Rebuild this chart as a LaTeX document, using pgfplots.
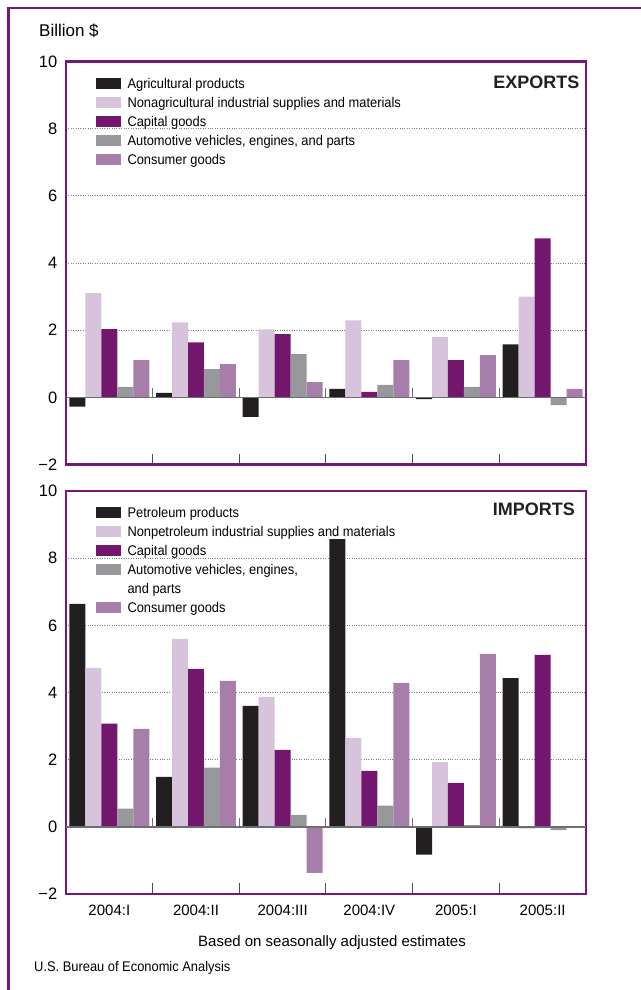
\documentclass[border=0pt]{standalone}
\usepackage{fontspec}
\setmainfont{Liberation Sans}
\newfontfamily\legendfam{Liberation Sans}[FakeStretch=0.92]
\usepackage{pgfplots}
\pgfplotsset{compat=1.18}

\definecolor{cBlack}{HTML}{231F20}
\definecolor{cLav}{HTML}{D7C4DC}
\definecolor{cPurple}{HTML}{72166E}
\definecolor{cGray}{HTML}{97989B}
\definecolor{cMauve}{HTML}{A77DA9}
\definecolor{framepurple}{HTML}{76187A}
\definecolor{zerogray}{HTML}{6D6E71}

\pgfplotsset{
  mybar/.style={fill=#1, draw=none,
    legend image code/.code={\fill[fill=#1] (0pt,-4.5pt) rectangle (25pt,6.5pt);}},
  panel/.style={
    ybar=0pt, bar width=0.1846,
    scale only axis, width=520pt, height=403pt,
    xmin=-0.5, xmax=5.5, ymin=-2, ymax=10,
    xtick={0,1,2,3,4,5},
    ytick={-2,0,2,4,6,8,10}, yticklabels={−2,0,2,4,6,8,10},
    axis line style={framepurple, line width=2.5pt},
    ymajorgrids, grid style={dotted, gray, line width=0.9pt},
    major tick length=0pt,
    minor xtick={0.5,1.5,2.5,3.5,4.5},
    minor tick length=11pt, tick align=inside,
    xtick pos=left, ytick pos=left,
    minor tick style={line width=1pt, black!70},
    yticklabel style={font=\fontsize{16.5}{18}\selectfont, inner sep=0pt, xshift=-8.5pt},
    xticklabel style={font=\fontsize{15}{17}\selectfont, inner sep=0pt, anchor=base, yshift=-21.5pt},
    legend cell align=left,
    legend style={draw=none, fill=none, at={(rel axis cs:0,1)}, anchor=north west,
      xshift=30pt, yshift=-15.5pt, inner sep=0pt, outer sep=0pt,
      font=\legendfam\fontsize{14}{16}\selectfont,
      nodes={inner sep=0pt, text height=11pt, text depth=3pt},
      row sep=5pt,
      /tikz/every odd column/.append style={column sep=6.5pt}},
  }
}

\begin{document}
\begin{tikzpicture}
\useasboundingbox (0pt,0pt) rectangle (640pt,-990pt);
\draw[framepurple, line width=2.5pt] (8.5pt,-1000pt) -- (8.5pt,-8pt) -- (660pt,-8pt);

\node[anchor=base west, inner sep=0pt, font=\fontsize{17}{19}\selectfont] at (39pt,-36.5pt) {Billion \$};

\begin{axis}[panel, at={(66pt,-61.5pt)}, anchor=north west, xticklabels={}]
\addplot[mybar=cBlack, bar shift=-0.3692] coordinates {(0,-0.28) (1,0.13) (2,-0.58) (3,0.25) (4,-0.05) (5,1.58)};
\addlegendentry{Agricultural products}
\addplot[mybar=cLav, bar shift=-0.1846] coordinates {(0,3.10) (1,2.23) (2,2.02) (3,2.29) (4,1.79) (5,3.00)};
\addlegendentry{Nonagricultural industrial supplies and materials}
\addplot[mybar=cPurple, bar shift=0] coordinates {(0,2.03) (1,1.64) (2,1.88) (3,0.16) (4,1.11) (5,4.73)};
\addlegendentry{Capital goods}
\addplot[mybar=cGray, bar shift=0.1846] coordinates {(0,0.31) (1,0.84) (2,1.29) (3,0.37) (4,0.31) (5,-0.23)};
\addlegendentry{Automotive vehicles, engines, and parts}
\addplot[mybar=cMauve, bar shift=0.3692] coordinates {(0,1.11) (1,0.99) (2,0.45) (3,1.11) (4,1.26) (5,0.25)};
\addlegendentry{Consumer goods}
\draw[zerogray, line width=1.5pt] (axis cs:-0.5,0) -- (axis cs:5.5,0);
\pgfplotsinvokeforeach{0.5,1.5,2.5,3.5,4.5}{\draw[zerogray, line width=1pt] (axis cs:#1,0) -- ++(0pt,9pt);}
\end{axis}
\node[anchor=base east, inner sep=0pt, font=\bfseries\fontsize{18}{20}\selectfont, text=cBlack] at (579.5pt,-88.3pt) {EXPORTS};

\begin{axis}[panel, at={(66pt,-491pt)}, anchor=north west,
  xticklabels={2004:I,2004:II,2004:III,2004:IV,2005:I,2005:II}]
\addplot[mybar=cBlack, bar shift=-0.3692] coordinates {(0,6.64) (1,1.49) (2,3.60) (3,8.57) (4,-0.83) (5,4.43)};
\addlegendentry{Petroleum products}
\addplot[mybar=cLav, bar shift=-0.1846] coordinates {(0,4.73) (1,5.60) (2,3.87) (3,2.65) (4,1.93) (5,-0.05)};
\addlegendentry{Nonpetroleum industrial supplies and materials}
\addplot[mybar=cPurple, bar shift=0] coordinates {(0,3.07) (1,4.70) (2,2.29) (3,1.67) (4,1.31) (5,5.12)};
\addlegendentry{Capital goods}
\addplot[mybar=cGray, bar shift=0.1846] coordinates {(0,0.54) (1,1.76) (2,0.36) (3,0.63) (4,0.05) (5,-0.10)};
\addlegendentry{Automotive vehicles, engines,}
\addlegendimage{empty legend}
\addlegendentry{and parts}
\addplot[mybar=cMauve, bar shift=0.3692] coordinates {(0,2.92) (1,4.35) (2,-1.37) (3,4.29) (4,5.15) (5,0.00)};
\addlegendentry{Consumer goods}
\draw[zerogray, line width=1.5pt] (axis cs:-0.5,0) -- (axis cs:5.5,0);
\pgfplotsinvokeforeach{0.5,1.5,2.5,3.5,4.5}{\draw[zerogray, line width=1pt] (axis cs:#1,0) -- ++(0pt,9pt);}
\end{axis}
\node[anchor=base east, inner sep=0pt, font=\bfseries\fontsize{18}{20}\selectfont, text=cBlack] at (575pt,-515.5pt) {IMPORTS};

\node[anchor=base, inner sep=0pt, font=\fontsize{15}{17}\selectfont] at (332pt,-946pt) {Based on seasonally adjusted estimates};
\node[anchor=base west, inner sep=0pt, font=\legendfam\fontsize{14}{16}\selectfont] at (34pt,-971pt) {U.S. Bureau of Economic Analysis};
\end{tikzpicture}
\end{document}
